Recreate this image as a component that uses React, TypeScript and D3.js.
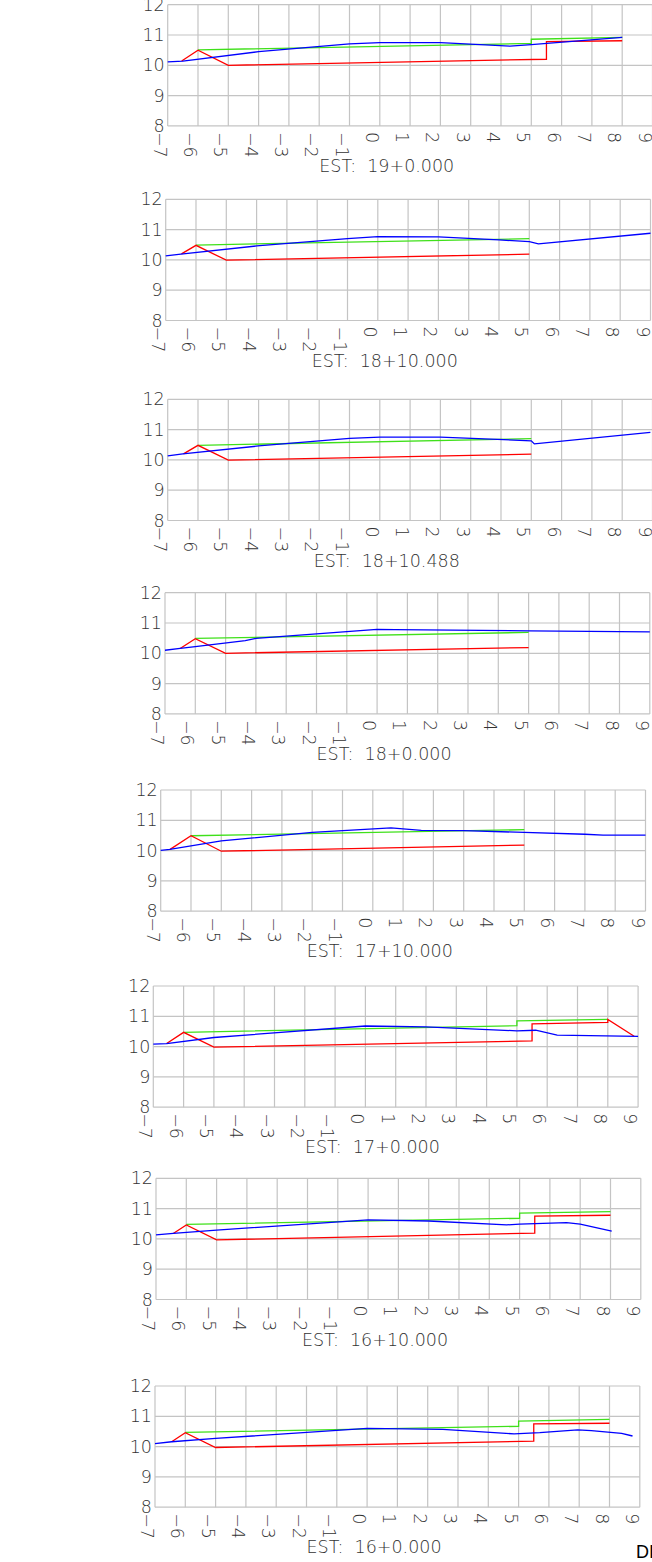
import * as d3 from "d3";

type Pt = [number, number];

// station labels, top to bottom
const stations = [
  "19+0.000",
  "18+10.000",
  "18+10.488",
  "18+0.000",
  "17+10.000",
  "17+0.000",
  "16+10.000",
  "16+0.000",
];

// existing ground (blue)
const groundLines: Pt[][] = [
  [[-7, 10.11], [-6.5, 10.14], [-4, 10.45], [-1, 10.71], [0, 10.75], [2, 10.75], [4.3, 10.63], [5, 10.68], [8, 10.92]],
  [[-7, 10.13], [-6.5, 10.19], [-4, 10.46], [-1, 10.7], [0, 10.77], [2, 10.76], [4, 10.66], [5, 10.6], [5.3, 10.53], [9, 10.88]],
  [[-7, 10.13], [-6.5, 10.2], [-4, 10.46], [-1, 10.71], [0, 10.75], [2, 10.75], [5, 10.63], [5.1, 10.53], [8.93, 10.91]],
  [[-7, 10.1], [-6.5, 10.16], [-6, 10.22], [-4.35, 10.42], [-4, 10.49], [0, 10.79], [0.6, 10.78], [5, 10.74], [9, 10.71]],
  [[-7, 10.01], [-6.7, 10.04], [-5, 10.32], [-2, 10.6], [0.6, 10.75], [1.6, 10.67], [3, 10.66], [5, 10.6], [7, 10.54], [7.6, 10.51], [9, 10.51]],
  [[-7, 10.08], [-6.56, 10.1], [-5, 10.3], [0, 10.68], [2, 10.65], [5, 10.52], [5.62, 10.54], [6.33, 10.38], [9, 10.34]],
  [[-7, 10.13], [-6.43, 10.18], [-5, 10.29], [0, 10.63], [2, 10.59], [4.57, 10.46], [5, 10.49], [6.55, 10.54], [7, 10.49], [8.04, 10.26]],
  [[-7, 10.1], [-6.45, 10.16], [-5, 10.27], [0, 10.6], [2.5, 10.57], [4.85, 10.42], [5.7, 10.46], [6.95, 10.55], [7.4, 10.53], [8.4, 10.44], [8.76, 10.35]],
];

// finished surface (green)
const surfaceLines: Pt[][] = [
  [[-6, 10.51], [5, 10.72], [5, 10.86], [8, 10.92]],
  [[-6, 10.49], [5, 10.7]],
  [[-6, 10.48], [5, 10.7]],
  [[-6, 10.49], [5, 10.69]],
  [[-6, 10.49], [5, 10.69]],
  [[-6, 10.47], [5, 10.69], [5, 10.85], [8, 10.9]],
  [[-6, 10.48], [5, 10.68], [5, 10.85], [8, 10.9]],
  [[-6, 10.47], [5, 10.67], [5, 10.84], [8, 10.9]],
];

// subgrade (red)
const subgradeLines: Pt[][] = [
  [[-6.54, 10.14], [-6, 10.5], [-5, 10.0], [5.5, 10.2], [5.5, 10.78], [8, 10.81]],
  [[-6.48, 10.2], [-6, 10.48], [-5, 9.99], [5, 10.19]],
  [[-6.48, 10.2], [-6, 10.48], [-5, 9.99], [5, 10.19]],
  [[-6.5, 10.16], [-6, 10.48], [-5, 10.0], [5, 10.19]],
  [[-6.69, 10.04], [-6, 10.49], [-5, 9.98], [5, 10.18]],
  [[-6.56, 10.1], [-6, 10.47], [-5, 9.98], [5.5, 10.19], [5.5, 10.75], [8, 10.8], [8, 10.9], [8.87, 10.34]],
  [[-6.43, 10.18], [-6, 10.46], [-5, 9.97], [5.5, 10.19], [5.5, 10.75], [8, 10.78]],
  [[-6.45, 10.16], [-6, 10.46], [-5, 9.97], [5.5, 10.18], [5.5, 10.75], [8, 10.77]],
];

const xTicks = d3.range(-7, 10);
const yTicks = [8, 9, 10, 11, 12];

// where each section frame sits on the sheet (left, top)
const frames: Pt[] = [
  [167.7, 4.7],
  [165.7, 199.3],
  [167.7, 399.3],
  [165, 592.7],
  [160.7, 790],
  [153.3, 986],
  [156, 1178.3],
  [155, 1386],
];

const W = 652;
const H = 1562;
const UNIT = 30.3;
const FONT = "'DejaVu Sans', 'Liberation Sans', sans-serif";
const FS = 17.5;
const TEXT = "#333";

function Section({ i }: { i: number }) {
  const [left, top] = frames[i];
  const x = d3.scaleLinear().domain([-7, 9]).range([left, left + 16 * UNIT]);
  const y = d3.scaleLinear().domain([8, 12]).range([top + 4 * UNIT, top]);
  const line = d3.line<Pt>().x(d => x(d[0])).y(d => y(d[1]));
  const bottom = y(8);

  return (
    <g>
      {/* grid */}
      {xTicks.map(t => (
        <line key={"vx" + t} x1={x(t)} x2={x(t)} y1={y(12)} y2={bottom} stroke="#c4c4c4" strokeWidth={1.2} />
      ))}
      {yTicks.map(t => (
        <line key={"hy" + t} x1={x(-7)} x2={x(9)} y1={y(t)} y2={y(t)} stroke="#c4c4c4" strokeWidth={1.2} />
      ))}

      {/* y labels */}
      {yTicks.map(t => (
        <text key={"yl" + t} x={x(-7) - 3} y={y(t)} textAnchor="end" dominantBaseline="central"
          fontFamily={FONT} fontWeight={200} fontSize={FS} fill={TEXT}>{t}</text>
      ))}

      {/* x labels, rotated to read downward */}
      {xTicks.map(t => (
        <text key={"xl" + t} transform={`translate(${x(t)},${bottom + 6}) rotate(90)`} x={0} y={14}
          fontFamily={FONT} fontWeight={200} fontSize={FS} fill={TEXT}>{t < 0 ? "\u2212" + Math.abs(t) : t}</text>
      ))}

      <path d={line(surfaceLines[i]) || ""} fill="none" stroke="#3fe01a" strokeWidth={1.3} />
      <path d={line(subgradeLines[i]) || ""} fill="none" stroke="#ff0000" strokeWidth={1.3} />
      <path d={line(groundLines[i]) || ""} fill="none" stroke="#0000ff" strokeWidth={1.3} />

      <text x={x(0.23)} y={bottom + 46} textAnchor="middle" fontFamily={FONT} fontWeight={200} fontSize={FS} fill={TEXT}
        style={{ whiteSpace: "pre" }}>
        {"EST:  " + stations[i]}
      </text>
    </g>
  );
}

export default function App() {
  return (
    <div style={{ position: "absolute", left: 0, top: 0, width: W, height: H, background: "#fff" }}>
      <svg width={W} height={H} style={{ display: "block" }}>
        <rect width={W} height={H} fill="#fff" />
        {stations.map((_, i) => <Section key={i} i={i} />)}
        <text x={636} y={1558} fontFamily="'Liberation Sans', Arial, sans-serif" fontSize={18} fill="#000">DI</text>
      </svg>
    </div>
  );
}
